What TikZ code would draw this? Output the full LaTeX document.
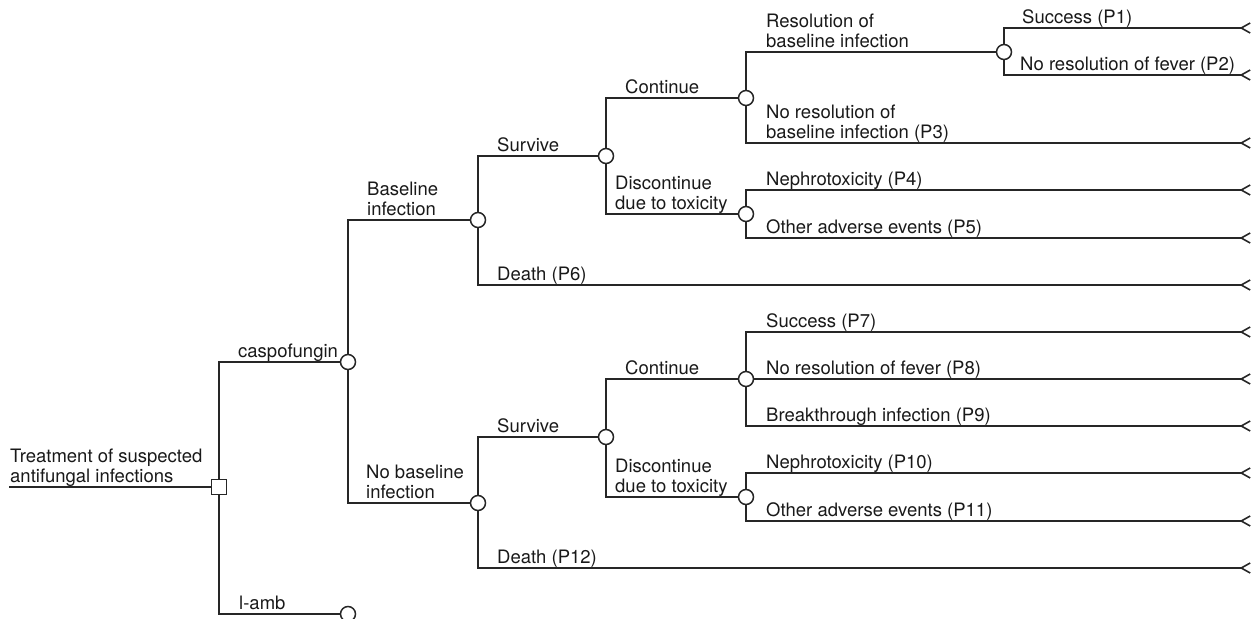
\documentclass[tikz,border=0pt]{standalone}
\usepackage{fontspec}
\setmainfont{TeX Gyre Heros}
\usetikzlibrary{arrows.meta}

\begin{document}
\begin{tikzpicture}[
      x=1pt, y=-1pt,
      br/.style={draw=black!85, line width=1.6pt},
      elbow/.style={to path={|- (\tikztotarget) \tikztonodes}},
      term/.style={-{Straight Barb[reversed, length=9pt, width=10pt]}},
      ch/.style={circle, draw=black!85, fill=white, line width=1.5pt, minimum size=15pt, inner sep=0pt},
      dec/.style={rectangle, draw=black!85, fill=white, line width=1.5pt, minimum size=15pt, inner sep=0pt},
      lbl/.style={anchor=south west, inner sep=0pt, yshift=4pt, text depth=0pt, align=left, text=black!90, font=\fontsize{18.5}{20}\selectfont}
    ]
    \useasboundingbox (0,0) rectangle (1252,618);
    \coordinate (start) at (9,487);
    \node[dec] (root) at (219,487) {};
    \node[ch] (casp) at (348,362) {};
    \node[ch] (lamb) at (348,614) {};
    \node[ch] (base) at (478,220) {};
    \node[ch] (nobase) at (478,503) {};
    \node[ch] (surva) at (606,156) {};
    \node[ch] (survb) at (606,437) {};
    \node[ch] (conta) at (746,98) {};
    \node[ch] (disca) at (746,214) {};
    \node[ch] (contb) at (746,379) {};
    \node[ch] (discb) at (746,497) {};
    \node[ch] (reso) at (1004,52) {};
    \coordinate (p1) at (1251,28);
    \coordinate (p2) at (1251,75);
    \coordinate (p3) at (1251,143);
    \coordinate (p4) at (1251,190);
    \coordinate (p5) at (1251,238);
    \coordinate (p6) at (1251,285);
    \coordinate (p7) at (1251,332);
    \coordinate (p8) at (1251,379);
    \coordinate (p9) at (1251,426);
    \coordinate (p10) at (1251,473);
    \coordinate (p11) at (1251,521);
    \coordinate (p12) at (1251,568);
    \node[lbl] (ltreat) at (10,487) {Treatment of suspected\\antifungal infections};
    \node[lbl] (lcasp) at (238,362) {caspofungin};
    \node[lbl] (llamb) at (239,614) {l-amb};
    \node[lbl] (lbase) at (367,220) {Baseline\\infection};
    \node[lbl] (lnobase) at (366,503) {No baseline\\infection};
    \node[lbl] (lsurva) at (497,156) {Survive};
    \node[lbl] (lsurvb) at (497,437) {Survive};
    \node[lbl] (lp6) at (497,285) {Death (P6)};
    \node[lbl] (lp12) at (497,568) {Death (P12)};
    \node[lbl] (lconta) at (625,98) {Continue};
    \node[lbl] (lcontb) at (625,379) {Continue};
    \node[lbl] (ldisca) at (615,214) {Discontinue\\due to toxicity};
    \node[lbl] (ldiscb) at (615,497) {Discontinue\\due to toxicity};
    \node[lbl] (lreso) at (766,52) {Resolution of\\baseline infection};
    \node[lbl] (lp3) at (766,143) {No resolution of\\baseline infection (P3)};
    \node[lbl] (lp4) at (766,190) {Nephrotoxicity (P4)};
    \node[lbl] (lp5) at (766,238) {Other adverse events (P5)};
    \node[lbl] (lp1) at (1022,28) {Success (P1)};
    \node[lbl] (lp2) at (1020,75) {No resolution of fever (P2)};
    \node[lbl] (lp7) at (766,332) {Success (P7)};
    \node[lbl] (lp8) at (766,379) {No resolution of fever (P8)};
    \node[lbl] (lp9) at (766,426) {Breakthrough infection (P9)};
    \node[lbl] (lp10) at (766,473) {Nephrotoxicity (P10)};
    \node[lbl] (lp11) at (766,521) {Other adverse events (P11)};
    \draw[br] (start) -- (root);
    \draw[br] (root) edge[elbow] (casp);
    \draw[br] (root) edge[elbow] (lamb);
    \draw[br] (casp) edge[elbow] (base);
    \draw[br] (casp) edge[elbow] (nobase);
    \draw[br] (base) edge[elbow] (surva);
    \draw[br] (base) edge[elbow, term] (p6);
    \draw[br] (surva) edge[elbow] (conta);
    \draw[br] (surva) edge[elbow] (disca);
    \draw[br] (conta) edge[elbow] (reso);
    \draw[br] (conta) edge[elbow, term] (p3);
    \draw[br] (reso) edge[elbow, term] (p1);
    \draw[br] (reso) edge[elbow, term] (p2);
    \draw[br] (disca) edge[elbow, term] (p4);
    \draw[br] (disca) edge[elbow, term] (p5);
    \draw[br] (nobase) edge[elbow] (survb);
    \draw[br] (nobase) edge[elbow, term] (p12);
    \draw[br] (survb) edge[elbow] (contb);
    \draw[br] (survb) edge[elbow] (discb);
    \draw[br] (contb) edge[elbow, term] (p7);
    \draw[br] (contb) edge[term] (p8);
    \draw[br] (contb) edge[elbow, term] (p9);
    \draw[br] (discb) edge[elbow, term] (p10);
    \draw[br] (discb) edge[elbow, term] (p11);
  \end{tikzpicture}
\end{document}
